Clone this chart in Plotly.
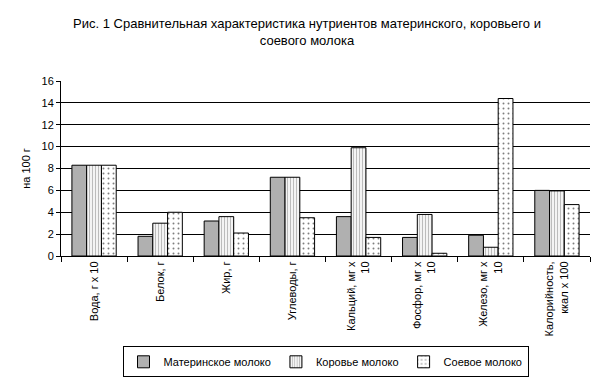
import plotly.graph_objects as go

categories = ["Вода, г х 10", "Белок, г", "Жир, г", "Углеводы, г",
              "Кальций, мг х<br>10", "Фосфор, мг х<br>10", "Железо, мг х<br>10",
              "Калорийность,<br>ккал х 100"]
series_names = ["Материнское молоко", "Коровье молоко", "Соевое молоко"]
mat_values = [8.3, 1.8, 3.2, 7.2, 3.6, 1.7, 1.9, 6.0]
cow_values = [8.3, 3.0, 3.6, 7.2, 9.9, 3.8, 0.8, 5.95]
soy_values = [8.3, 4.0, 2.1, 3.5, 1.7, 0.25, 14.4, 4.7]
y_ticks = [0, 2, 4, 6, 8, 10, 12, 14, 16]

font = "Arial, Liberation Sans, sans-serif"

fig = go.Figure()
fig.add_trace(go.Bar(x=categories, y=mat_values, name=series_names[0],
                     marker=dict(color="#b0b0b0", line=dict(color="black", width=1))))
fig.add_trace(go.Bar(x=categories, y=cow_values, name=series_names[1],
                     marker=dict(color="white", line=dict(color="black", width=1),
                                 pattern=dict(shape="|", size=3, solidity=0.45,
                                              fgcolor="#7a7a7a", bgcolor="white"))))
fig.add_trace(go.Bar(x=categories, y=soy_values, name=series_names[2],
                     marker=dict(color="white", line=dict(color="black", width=1),
                                 pattern=dict(shape=".", size=5, solidity=0.12,
                                              fgcolor="black", bgcolor="white"))))

fig.update_layout(
    width=598, height=375,
    paper_bgcolor="white", plot_bgcolor="white",
    font=dict(family=font, size=11, color="black"),
    barmode="group", bargap=0.33, bargroupgap=0,
    margin=dict(l=53, r=16, t=73, b=127, autoexpand=False),
    title=dict(text="Рис. 1 Сравнительная характеристика нутриентов материнского, коровьего и<br>соевого молока",
               x=0.5, xref="container", xanchor="center",
               y=0.947, yref="container", yanchor="top",
               font=dict(family=font, size=13, color="black")),
    legend=dict(orientation="h", x=0.5, xanchor="center", y=-0.516, yanchor="top",
                bordercolor="black", borderwidth=1, font=dict(size=11),
                itemwidth=30, tracegroupgap=0),
    showlegend=True,
)
fig.update_xaxes(type="category", tickangle=-90, showline=True, linecolor="black",
                 linewidth=1, ticks="outside", tickson="boundaries", ticklen=5,
                 tickcolor="black", showgrid=False, tickfont=dict(size=11),
                 automargin=False)
fig.update_yaxes(range=[0, 16], tickvals=y_ticks, showline=True, linecolor="black",
                 linewidth=1, ticks="outside", ticklen=4, tickcolor="black",
                 showgrid=True, gridcolor="black", gridwidth=1, zeroline=False,
                 title=dict(text="на 100 г", font=dict(size=11), standoff=8),
                 tickfont=dict(size=11), automargin=False)

fig.write_html("out.html")
